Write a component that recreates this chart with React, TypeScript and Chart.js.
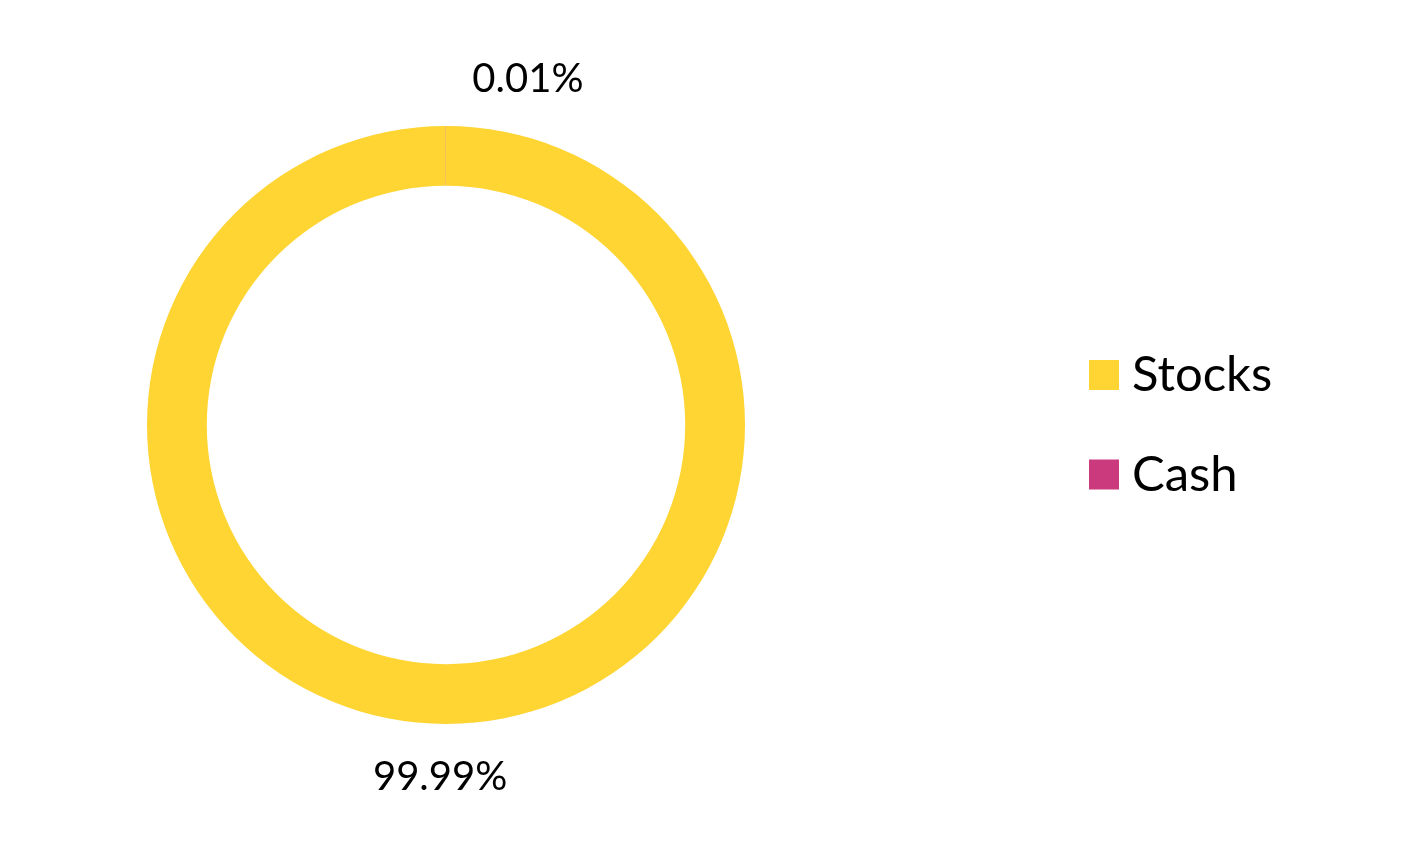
import React, { useEffect, useRef } from "react";
import { Chart, registerables } from "chart.js";

Chart.register(...registerables);

const categories = ["Stocks", "Cash"];
const shareValues = [99.99, 0.01];
const valueLabels = ["99.99%", "0.01%"];
const sliceColors = ["#FED533", "#CB3A7C"];

const FONT = "Lato, 'Open Sans', sans-serif";

const labelPlugin = {
  id: "sliceLabels",
  afterDatasetsDraw(chart: any) {
    const ctx = chart.ctx;
    const meta = chart.getDatasetMeta(0);
    const dx = [-6, 82];
    ctx.save();
    ctx.font = `40px ${FONT}`;
    ctx.fillStyle = "#000";
    ctx.textAlign = "center";
    ctx.textBaseline = "middle";
    meta.data.forEach((arc: any, i: number) => {
      const p = arc.getProps(["x", "y", "startAngle", "endAngle", "outerRadius"], true);
      const mid = (p.startAngle + p.endAngle) / 2;
      const r = p.outerRadius + 50;
      const x = p.x + Math.cos(mid) * r + dx[i];
      const y = p.y + Math.sin(mid) * r;
      ctx.fillText(valueLabels[i], x, y + 3);
    });
    ctx.restore();
  },
};

const legendPlugin = {
  id: "sideLegend",
  afterDraw(chart: any) {
    const ctx = chart.ctx;
    ctx.save();
    const boxX = 1089;
    const firstTop = 360;
    const step = 99.5;
    const box = 30;
    ctx.font = `49px ${FONT}`;
    ctx.textAlign = "left";
    ctx.textBaseline = "alphabetic";
    categories.forEach((name, i) => {
      const top = firstTop + i * step;
      ctx.fillStyle = sliceColors[i];
      ctx.fillRect(boxX, top, box, box);
      ctx.fillStyle = "#000";
      ctx.fillText(name, boxX + box + 13, top + box + 1);
    });
    ctx.restore();
  },
};

export default function App() {
  const ref = useRef<HTMLCanvasElement | null>(null);
  useEffect(() => {
    if (!ref.current) return;
    const chart = new Chart(ref.current, {
      type: "doughnut",
      data: {
        labels: categories,
        datasets: [
          {
            data: shareValues,
            backgroundColor: sliceColors,
            borderWidth: 0,
          },
        ],
      },
      options: {
        responsive: false,
        animation: false,
        cutout: "80%",
        layout: { padding: { left: 147, right: 673, top: 126, bottom: 130 } },
        plugins: {
          legend: { display: false },
          tooltip: { enabled: false },
        },
      },
      plugins: [labelPlugin, legendPlugin],
    });
    return () => chart.destroy();
  }, []);
  return (
    <div style={{ position: "fixed", left: 0, top: 0, width: 1418, height: 854, background: "#fff" }}>
      <canvas ref={ref} width={1418} height={854} />
    </div>
  );
}
